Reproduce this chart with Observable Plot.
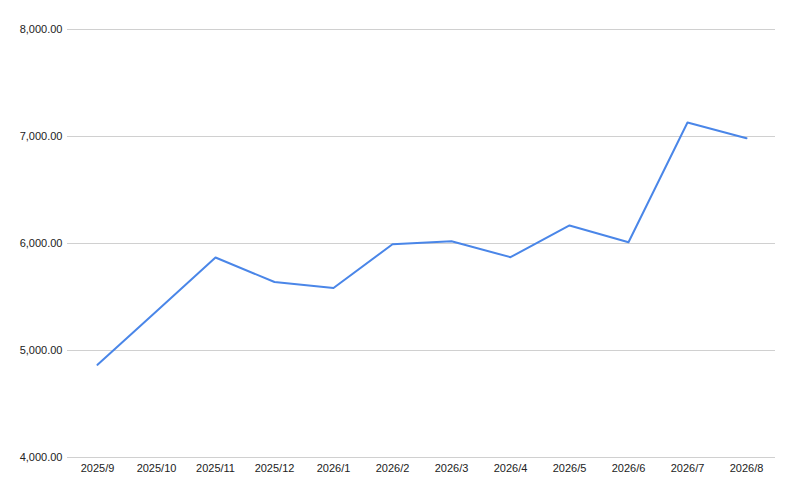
<!DOCTYPE html>
<html>
<head>
<meta charset="utf-8">
<script src="https://cdn.jsdelivr.net/npm/d3@7"></script>
<script src="https://cdn.jsdelivr.net/npm/@observablehq/plot@0.6"></script>
<style>
  html, body { margin: 0; padding: 0; background: #fff; }
  svg { display: block; }
</style>
</head>
<body>
<div id="chart"></div>
<script>
const months = ["2025/9","2025/10","2025/11","2025/12","2026/1","2026/2","2026/3","2026/4","2026/5","2026/6","2026/7","2026/8"];
const values = [4866, 5366, 5869, 5640, 5584, 5993, 6021, 5872, 6169, 6012, 7131, 6984];
const yTicks = [4000, 5000, 6000, 7000, 8000];

const data = months.map((m, i) => ({month: m, value: values[i]}));
const fmt = d3.format(",.2f");

const chart = Plot.plot({
  width: 800,
  height: 496,
  marginLeft: 67,
  marginRight: 25,
  marginTop: 29,
  marginBottom: 39,
  style: {fontFamily: "'Liberation Sans', Arial, sans-serif", fontSize: "11px", color: "#222", background: "#fff"},
  x: {type: "point", domain: months, padding: 0.5, label: null},
  y: {domain: [4000, 8000], label: null},
  marks: [
    Plot.ruleY(yTicks, {stroke: "#d0d0d0", strokeWidth: 1}),
    Plot.axisY({ticks: yTicks, tickFormat: fmt, tickSize: 0, tickPadding: 5, label: null, fill: "#222"}),
    Plot.axisX({tickSize: 0, tickPadding: 7, label: null, fill: "#222"}),
    Plot.line(data, {x: "month", y: "value", stroke: "#4a86e8", strokeWidth: 2})
  ]
});
document.getElementById("chart").append(chart);
</script>
</body>
</html>
